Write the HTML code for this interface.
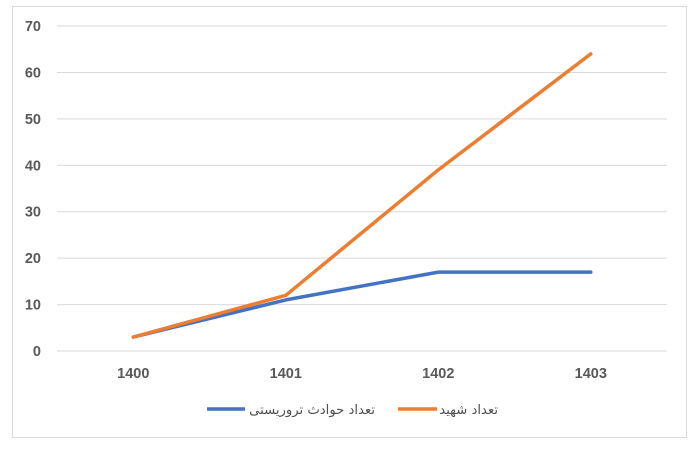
<!DOCTYPE html>
<html>
<head>
<meta charset="utf-8">
<style>
html,body{margin:0;padding:0;background:#fff;}
svg{display:block;}
.ax{font-family:"Liberation Sans",sans-serif;font-weight:bold;font-size:14.5px;fill:#595959;}
.lg{font-family:"DejaVu Sans","Liberation Sans",sans-serif;font-size:13.2px;fill:#505050;}
</style>
</head>
<body>
<svg width="700" height="451" viewBox="0 0 700 451" xmlns="http://www.w3.org/2000/svg">
<rect x="0" y="0" width="700" height="451" fill="#fff"/>
<rect x="12.5" y="6.5" width="674" height="431" fill="#fff" stroke="#d9d9d9" stroke-width="1"/>
<g stroke="#d9d9d9" stroke-width="1">
<line x1="57" y1="26" x2="667" y2="26"/>
<line x1="57" y1="72.5" x2="667" y2="72.5"/>
<line x1="57" y1="118.9" x2="667" y2="118.9"/>
<line x1="57" y1="165.3" x2="667" y2="165.3"/>
<line x1="57" y1="211.7" x2="667" y2="211.7"/>
<line x1="57" y1="258.1" x2="667" y2="258.1"/>
<line x1="57" y1="304.6" x2="667" y2="304.6"/>
<line x1="57" y1="351" x2="667" y2="351"/>
</g>
<g class="ax" text-anchor="end">
<text x="41" y="31">70</text>
<text x="41" y="77.5">60</text>
<text x="41" y="124">50</text>
<text x="41" y="170.3">40</text>
<text x="41" y="216.7">30</text>
<text x="41" y="263.1">20</text>
<text x="41" y="309.6">10</text>
<text x="41" y="356">0</text>
</g>
<g class="ax" text-anchor="middle">
<text x="133.3" y="378">1400</text>
<text x="285.8" y="378">1401</text>
<text x="438.3" y="378">1402</text>
<text x="590.8" y="378">1403</text>
</g>
<polyline fill="none" stroke="#4472C4" stroke-width="3.5" stroke-linejoin="round" stroke-linecap="round"
 points="133.3,337.1 285.8,299.9 438.3,272.1 590.8,272.1"/>
<polyline fill="none" stroke="#ED7D31" stroke-width="3.5" stroke-linejoin="round" stroke-linecap="round"
 points="133.3,337.1 285.8,295.3 438.3,169.9 590.8,53.9"/>
<line x1="207" y1="409" x2="245" y2="409" stroke="#4472C4" stroke-width="3.5"/>
<text class="lg" x="375" y="414" text-anchor="start" direction="rtl" unicode-bidi="embed">تعداد حوادث تروریستی</text>
<line x1="398" y1="409" x2="437" y2="409" stroke="#ED7D31" stroke-width="3.5"/>
<text class="lg" x="498" y="414" text-anchor="start" direction="rtl" unicode-bidi="embed">تعداد شهید</text>
</svg>
</body>
</html>
